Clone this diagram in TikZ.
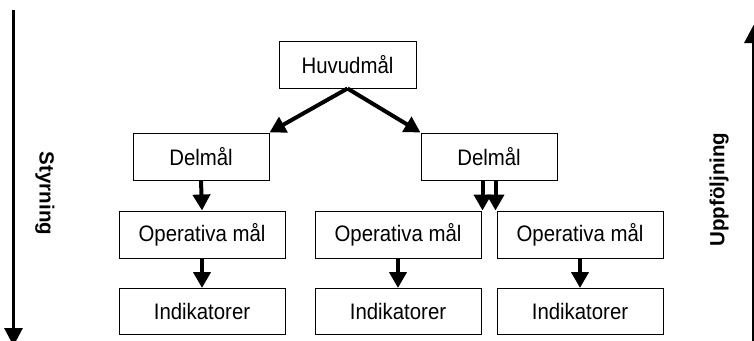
\documentclass[tikz,border=0pt]{standalone}
\usepackage{fontspec}
\setmainfont{Liberation Sans}
\usetikzlibrary{arrows.meta}
\newcommand\narrowtxt[1]{\scalebox{0.91}[1]{#1}}
\tikzset{
  box/.style={draw=black, line width=1pt, minimum height=47pt, inner sep=0pt,
    font=\fontsize{22.4}{26}\selectfont},
  wbox/.style={box, minimum width=166pt},
  nbox/.style={box, minimum width=136pt},
  conn/.style={line width=4pt, -{Triangle[length=16pt,width=17pt]}},
  side/.style={line width=3pt, -{Triangle[length=18pt,width=18pt]}},
  sidelabel/.style={font=\bfseries\fontsize{20.5}{24}\selectfont, inner sep=0pt}
}
\begin{document}
\begin{tikzpicture}[x=1pt,y=-1pt]
\useasboundingbox (0,0) rectangle (754,340);
\node[box, minimum width=137pt] (h) at (347.5,64.5) {\narrowtxt{Huvudmål}};
\node[nbox] (dl) at (201,156.5) {\narrowtxt{Delmål}};
\node[nbox] (dr) at (489,156.5) {\narrowtxt{Delmål}};
\node[wbox] (ol) at (202,234.5) {\narrowtxt{Operativa mål}};
\node[wbox] (om) at (398,234.5) {\narrowtxt{Operativa mål}};
\node[wbox] (or) at (580,234.5) {\narrowtxt{Operativa mål}};
\node[wbox, minimum height=46pt] (il) at (202,311.5) {\narrowtxt{Indikatorer}};
\node[wbox, minimum height=46pt] (im) at (398,311.5) {\narrowtxt{Indikatorer}};
\node[wbox, minimum height=46pt] (ir) at (580,311.5) {\narrowtxt{Indikatorer}};
\draw[conn] (h.south) -- (dl.north east);
\draw[conn] (h.south) -- (dr.north west);
\draw[conn] (dl.south) -- (ol.north);
\draw[conn] ([xshift=1pt]om.north east |- dr.south) -- ([xshift=1pt]om.north east);
\draw[conn] ([xshift=-1pt]or.north west |- dr.south) -- ([xshift=-1pt]or.north west);
\draw[conn] (ol.south) -- (il.north);
\draw[conn] (om.south) -- (im.north);
\draw[conn] (or.south) -- (ir.north);
\coordinate (s1) at (13.5,10);
\coordinate (s2) at (13.5,346);
\coordinate (u1) at (753.5,345);
\coordinate (u2) at (753.5,25);
\draw[side] (s1) -- (s2);
\draw[side] (u1) -- (u2);
\node[sidelabel, rotate=-90] (st) at (45,193.5) {Styrning};
\node[sidelabel, rotate=90] (up) at (719,189.5) {Uppföljning};
\end{tikzpicture}
\end{document}
